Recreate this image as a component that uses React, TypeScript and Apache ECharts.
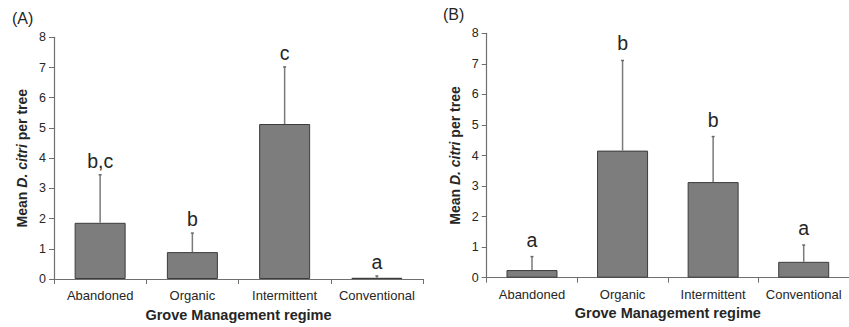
import React, { useEffect, useRef } from "react";
import * as echarts from "echarts";

const categories = ["Abandoned", "Organic", "Intermittent", "Conventional"];
const meansA = [1.86, 0.89, 5.13, 0.04];
const errA = [1.59, 0.63, 1.89, 0.06];
const lettersA = ["b,c", "b", "c", "a"];
const meansB = [0.25, 4.16, 3.13, 0.52];
const errB = [0.44, 2.95, 1.49, 0.55];
const lettersB = ["a", "b", "b", "a"];
const yTicks = [0, 1, 2, 3, 4, 5, 6, 7, 8];

const FONT = "Liberation Sans, Arial, sans-serif";
const TEXT = "#262626";
const AXIS = "#6f6f6f";

function yAxisFor(gridIndex: number) {
  return {
    type: "value",
    gridIndex,
    min: yTicks[0],
    max: yTicks[yTicks.length - 1],
    interval: 1,
    splitLine: { show: false },
    axisLine: { show: true, lineStyle: { color: AXIS, width: 1.2 } },
    axisTick: { show: true, length: 5, lineStyle: { color: AXIS } },
    axisLabel: { color: TEXT, fontSize: 12.5, fontFamily: FONT, margin: 8 },
    name: "{b|Mean }{i|D. citri}{b| per tree}",
    nameLocation: "middle",
    nameGap: 25,
    nameTextStyle: {
      rich: {
        b: { fontSize: 14, fontWeight: "bold", fontFamily: FONT, color: TEXT },
        i: { fontSize: 14, fontWeight: "bold", fontStyle: "italic", fontFamily: FONT, color: TEXT },
      },
    },
  };
}

function xAxisFor(gridIndex: number) {
  return {
    type: "category",
    gridIndex,
    data: categories,
    axisLine: { show: true, lineStyle: { color: AXIS, width: 1.2 } },
    axisTick: { show: true, length: 5, lineStyle: { color: AXIS } },
    axisLabel: { color: TEXT, fontSize: 13, fontFamily: FONT, margin: 10, interval: 0 },
    name: "Grove Management regime",
    nameLocation: "middle",
    nameGap: 28,
    nameTextStyle: { fontSize: 14.5, fontWeight: "bold", fontFamily: FONT, color: TEXT },
  };
}

function barSeries(idx: number, means: number[]) {
  return {
    type: "bar",
    xAxisIndex: idx,
    yAxisIndex: idx,
    data: means,
    barWidth: 51,
    itemStyle: { color: "#7d7d7d", borderColor: "#3c3c3c", borderWidth: 1 },
    z: 2,
  };
}

function errSeries(idx: number, means: number[], errs: number[], letters: string[], gap: number) {
  return {
    type: "custom",
    xAxisIndex: idx,
    yAxisIndex: idx,
    z: 3,
    data: means.map((m, i) => [i, m, m + errs[i]]),
    renderItem: (params: any, api: any) => {
      const i = api.value(0);
      const base = api.coord([i, api.value(1)]);
      const top = api.coord([i, api.value(2)]);
      return {
        type: "group",
        children: [
          {
            type: "line",
            shape: { x1: base[0], y1: base[1], x2: top[0], y2: top[1] },
            style: { stroke: "#7a7a7a", lineWidth: 1.5 },
          },
          {
            type: "line",
            shape: { x1: top[0] - 1.5, y1: top[1], x2: top[0] + 1.5, y2: top[1] },
            style: { stroke: "#6a6a6a", lineWidth: 1.5 },
          },
          {
            type: "text",
            x: top[0],
            y: top[1] - gap,
            style: {
              text: letters[params.dataIndex],
              fontSize: 19.5,
              fontFamily: FONT,
              fill: TEXT,
              align: "center",
              verticalAlign: "bottom",
            },
          },
        ],
      };
    },
  };
}

export default function App() {
  const ref = useRef<HTMLDivElement>(null);
  useEffect(() => {
    if (!ref.current) return;
    const chart = echarts.init(ref.current, null, { renderer: "svg" });
    chart.setOption({
      animation: false,
      backgroundColor: "#ffffff",
      grid: [
        { left: 54, top: 37.3, width: 369, height: 246 },
        { left: 486.7, top: 33.3, width: 368, height: 244.4 },
      ],
      xAxis: [xAxisFor(0), xAxisFor(1)],
      yAxis: [yAxisFor(0), yAxisFor(1)],
      graphic: [
        { type: "text", left: 12, top: 10, style: { text: "(A)", fontSize: 16, fontFamily: FONT, fill: TEXT } },
        { type: "text", left: 443, top: 6, style: { text: "(B)", fontSize: 16, fontFamily: FONT, fill: TEXT } },
      ],
      series: [
        barSeries(0, meansA),
        errSeries(0, meansA, errA, lettersA, 4),
        barSeries(1, meansB),
        errSeries(1, meansB, errB, lettersB, 7),
      ],
    });
    return () => chart.dispose();
  }, []);
  return (
    <div
      ref={ref}
      style={{ position: "absolute", left: 0, top: 0, width: 849, height: 327, background: "#fff" }}
    />
  );
}
